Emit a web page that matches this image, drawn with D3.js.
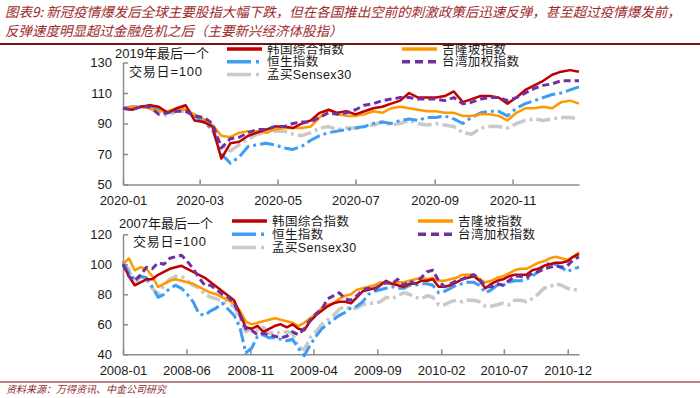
<!DOCTYPE html>
<html lang="zh">
<head>
<meta charset="utf-8">
<title>新冠疫情与金融危机后主要新兴经济体股指</title>
<script src="https://d3js.org/d3.v7.min.js"></script>
<style>
  body { margin: 0; background: #fff; }
  svg { display: block; font-family: "Liberation Sans", "Noto Sans CJK SC", sans-serif; }
</style>
</head>
<body>
<script>
const W = 700, H = 398;
const plotLeft = 123, plotRight = 579;

const titleLines = [
  "图表9: 新冠疫情爆发后全球主要股指大幅下跌，但在各国推出空前的刺激政策后迅速反弹，甚至超过疫情爆发前，",
  "反弹速度明显超过金融危机之后（主要新兴经济体股指）"
];
const sourceText = "资料来源：万得资讯、中金公司研究";

// ---- 2020, weekly from 2020-01-01, last trading day of 2019 = 100
const start2020 = new Date(2020, 0, 1);
const kospi2020 = [100, 99, 101, 102, 101, 97, 100, 102, 92, 91, 88, 67, 77, 78, 82, 84, 86, 88, 88, 87,
  90, 92, 97, 99, 97, 98, 96, 98, 100, 101, 103, 105, 110, 107, 107, 107, 108, 111, 104, 106,
  108, 108, 107, 103, 107, 112, 115, 118, 122, 124, 125, 124];
const klci2020 = [100, 101, 101, 100, 98, 98, 100, 99, 96, 93, 89, 82, 81, 84, 85, 85, 84, 86, 87, 87,
  87, 88, 94, 99, 96, 95, 95, 96, 98, 97, 100, 101, 100, 99, 98, 98, 97, 97, 95, 95,
  96, 96, 95, 92, 97, 100, 100, 101, 100, 104, 105, 103];
const hsi2020 = [100, 101, 101, 102, 99, 97, 99, 100, 95, 91, 86, 70, 64, 68, 75, 76, 77, 76, 74, 73,
  75, 79, 82, 84, 85, 86, 87, 88, 90, 91, 90, 92, 93, 92, 94, 94, 95, 93, 90, 94,
  97, 98, 98, 95, 100, 103, 105, 107, 109, 110, 112, 114];
const taiex2020 = [100, 99, 101, 101, 96, 97, 98, 98, 95, 94, 90, 74, 80, 81, 84, 86, 86, 88, 88, 90,
  91, 91, 94, 97, 96, 97, 99, 102, 103, 105, 106, 107, 107, 106, 106, 106, 105, 107, 103, 104,
  106, 107, 107, 105, 107, 110, 113, 115, 116, 118, 118, 118];
const sensex2020 = [100, 100, 101, 100, 97, 95, 98, 98, 95, 92, 86, 76, 72, 76, 80, 83, 84, 85, 85, 83,
  82, 84, 87, 88, 86, 87, 87, 88, 89, 91, 89, 90, 92, 90, 89, 90, 89, 88, 84, 83,
  87, 88, 88, 87, 90, 92, 93, 92, 93, 94, 94, 93];

// ---- 2008-2010, every two weeks from 2008-01-01, last trading day of 2007 = 100
const start2008 = new Date(2008, 0, 1);
const kospi2008 = [100, 92, 86, 88, 90, 90, 93, 95, 97, 98, 99, 97, 95, 93, 91, 88, 85, 82, 79, 76,
  67, 58, 57, 59, 55, 57, 59, 60, 58, 60, 57, 56, 62, 66, 69, 72, 74, 75, 75, 74,
  78, 82, 83, 84, 86, 89, 87, 86, 85, 87, 87, 89, 89, 90, 85, 85, 86, 88, 90, 91,
  92, 89, 84, 87, 89, 90, 92, 93, 93, 93, 96, 97, 99, 100, 101, 101, 102, 105, 107];
const klci2008 = [100, 104, 96, 98, 97, 92, 85, 87, 89, 90, 89, 88, 87, 85, 83, 81, 80, 78, 76, 74,
  69, 62, 60, 61, 62, 63, 64, 63, 62, 61, 59, 61, 64, 67, 71, 73, 74, 77, 79, 80,
  83, 84, 85, 86, 88, 87, 87, 88, 88, 89, 90, 91, 90, 91, 89, 89, 90, 91, 93, 93,
  93, 90, 88, 89, 91, 92, 94, 96, 97, 97, 99, 101, 102, 104, 105, 104, 103, 105, 108];
const hsi2008 = [102, 94, 90, 92, 91, 85, 78, 80, 84, 86, 84, 80, 75, 67, 66, 69, 71, 74, 70, 66,
  58, 41, 44, 52, 53, 51, 51, 50, 49, 50, 44, 39, 46, 52, 57, 60, 63, 66, 68, 71,
  72, 75, 80, 82, 83, 84, 85, 84, 84, 86, 86, 87, 87, 86, 81, 82, 84, 86, 87, 88,
  88, 86, 81, 83, 86, 86, 88, 89, 89, 90, 92, 95, 99, 101, 100, 98, 95, 97, 98];
const taiex2008 = [100, 92, 89, 93, 98, 97, 101, 100, 104, 105, 106, 102, 97, 91, 86, 86, 83, 80, 78, 74,
  66, 57, 56, 53, 54, 53, 52, 51, 52, 55, 53, 57, 63, 67, 70, 77, 79, 81, 77, 76,
  79, 83, 84, 83, 86, 88, 87, 90, 86, 89, 87, 91, 95, 96, 89, 85, 87, 89, 90, 92,
  93, 90, 85, 85, 87, 86, 89, 92, 92, 91, 94, 95, 97, 98, 99, 98, 99, 103, 105];
const sensex2008 = [100, 97, 86, 92, 90, 84, 80, 86, 90, 92, 92, 89, 86, 84, 80, 78, 77, 75, 74, 72,
  64, 55, 57, 56, 58, 54, 55, 54, 55, 54, 45, 43, 51, 55, 60, 63, 66, 70, 72, 70,
  71, 73, 74, 74, 75, 78, 77, 79, 81, 80, 78, 77, 79, 78, 73, 73, 75, 76, 75, 76,
  76, 75, 72, 72, 73, 74, 73, 76, 76, 75, 77, 80, 84, 85, 87, 86, 84, 83, 83];

const yTicks2020 = [50, 70, 90, 110, 130];
const yTicks2008 = [40, 60, 80, 100, 120];
const xTicks2020 = ["2020-01", "2020-03", "2020-05", "2020-07", "2020-09", "2020-11"];
const xTicks2008 = ["2008-01", "2008-06", "2008-11", "2009-04", "2009-09", "2010-02", "2010-07", "2010-12"];

// styles
const styles = {
  kospi:  { name: "韩国综合指数", color: "#C00000", dash: null, width: 2.5 },
  klci:   { name: "吉隆坡指数", color: "#FF9900", dash: null, width: 2.5 },
  hsi:    { name: "恒生指数", color: "#3D9DF2", dash: "14,4,3,4", legendDash: "24,5,3,5", width: 3 },
  taiex:  { name: "台湾加权指数", color: "#7030A0", dash: "7,4", legendDash: "8,5", width: 3 },
  sensex: { name: "孟买Sensex30", color: "#C9C9C9", dash: "14,4,3,4", legendDash: "24,5,3,5", width: 3.5 }
};
const drawOrder = ["sensex", "hsi", "klci", "kospi", "taiex"];
const parseMonth = d3.timeParse("%Y-%m");

const svg = d3.select("body").append("svg")
  .attr("width", W)
  .attr("height", H);
svg.append("rect").attr("width", W).attr("height", H).attr("fill", "#fff");

// title
const titleG = svg.append("g")
  .attr("fill", "#9E2A2B")
  .attr("font-family", '"Noto Sans CJK SC", sans-serif')
  .attr("font-size", 13.5)
  .attr("font-style", "italic");
titleG.append("text").attr("x", 5).attr("y", 17).text(titleLines[0]);
titleG.append("text").attr("x", 5).attr("y", 36).text(titleLines[1]);
svg.append("line")
  .attr("x1", 0).attr("x2", W).attr("y1", 44).attr("y2", 44)
  .attr("stroke", "#7B1416").attr("stroke-width", 2);

function drawPanel(p) {
  const dates = p.series.kospi.map((d, i) => d3.timeDay.offset(p.start, p.step * i));
  const x = d3.scaleTime().domain(p.xDomain).range([plotLeft, plotRight]);
  const y = d3.scaleLinear().domain([p.yTicks[0], p.yTicks[p.yTicks.length - 1]]).range([p.bottom, p.top]);
  const g = svg.append("g");

  const xAxis = g.append("g")
    .attr("transform", "translate(0," + p.bottom + ")")
    .call(d3.axisBottom(x)
      .tickValues(p.xTicks.map(parseMonth))
      .tickFormat(d3.timeFormat("%Y-%m"))
      .tickSize(-5).tickSizeOuter(0).tickPadding(11.5));
  const yAxis = g.append("g")
    .attr("transform", "translate(" + plotLeft + ",0)")
    .call(d3.axisLeft(y)
      .tickValues(p.yTicks)
      .tickSize(-5).tickSizeOuter(0).tickPadding(11));
  [xAxis, yAxis].forEach(a => {
    a.selectAll("path, line").attr("stroke", "#8c8c8c").attr("stroke-width", 1.5);
    a.selectAll("text").attr("font-size", 13).attr("fill", "#1a1a1a")
      .attr("font-family", '"Liberation Sans", Arial, sans-serif');
  });

  const line = d3.line()
    .x((d, i) => x(dates[i]))
    .y(d => y(d))
    .curve(d3.curveLinear);

  drawOrder.forEach(key => {
    const s = styles[key];
    g.append("path")
      .datum(p.series[key])
      .attr("d", line)
      .attr("fill", "none")
      .attr("stroke", s.color)
      .attr("stroke-width", s.width)
      .attr("stroke-linejoin", "round")
      .attr("stroke-dasharray", s.dash);
  });

  // base note
  const note = g.append("g").attr("font-size", 13).attr("fill", "#1a1a1a");
  note.append("text").attr("x", p.noteX).attr("y", p.noteY).text(p.note);
  note.append("text").attr("x", p.noteX + 14).attr("y", p.noteY + 18)
    .attr("letter-spacing", 0.8).text("交易日=100");

  // legend
  const legend = g.append("g").attr("font-size", 12.5).attr("fill", "#1a1a1a");
  p.legend.forEach(item => {
    const s = styles[item.key];
    const lx = p.legendCols[item.col];
    const ly = p.legendTop + item.row * p.legendStep;
    legend.append("line")
      .attr("x1", lx).attr("x2", lx + 35).attr("y1", ly).attr("y2", ly)
      .attr("stroke", s.color).attr("stroke-width", 3.5)
      .attr("stroke-dasharray", s.legendDash || null);
    legend.append("text")
      .attr("x", lx + 40).attr("y", ly + 4.5)
      .attr("letter-spacing", 0.4)
      .text(s.name);
  });
}

const legendItems = [
  { key: "kospi", col: 0, row: 0 },
  { key: "klci", col: 1, row: 0 },
  { key: "hsi", col: 0, row: 1 },
  { key: "taiex", col: 1, row: 1 },
  { key: "sensex", col: 0, row: 2 }
];

drawPanel({
  start: start2020, step: 7,
  xDomain: [new Date(2020, 0, 1), new Date(2020, 11, 23)],
  xTicks: xTicks2020, yTicks: yTicks2020,
  top: 62.5, bottom: 184.5,
  series: { kospi: kospi2020, klci: klci2020, hsi: hsi2020, taiex: taiex2020, sensex: sensex2020 },
  note: "2019年最后一个", noteX: 115, noteY: 58,
  legend: legendItems, legendCols: [227, 402], legendTop: 49, legendStep: 12.7
});

drawPanel({
  start: start2008, step: 14,
  xDomain: [new Date(2008, 0, 1), new Date(2010, 11, 28)],
  xTicks: xTicks2008, yTicks: yTicks2008,
  top: 234.3, bottom: 354.3,
  series: { kospi: kospi2008, klci: klci2008, hsi: hsi2008, taiex: taiex2008, sensex: sensex2008 },
  note: "2007年最后一个", noteX: 119, noteY: 228,
  legend: legendItems, legendCols: [232, 418], legendTop: 221, legendStep: 13.3
});

// source
svg.append("line")
  .attr("x1", 0).attr("x2", W).attr("y1", 382).attr("y2", 382)
  .attr("stroke", "#A0575A").attr("stroke-width", 1.5);
svg.append("text")
  .attr("x", 6).attr("y", 393)
  .attr("font-size", 10).attr("font-style", "italic")
  .attr("font-family", '"Noto Sans CJK SC", sans-serif')
  .attr("fill", "#8B2A2A")
  .text(sourceText);
</script>
</body>
</html>
